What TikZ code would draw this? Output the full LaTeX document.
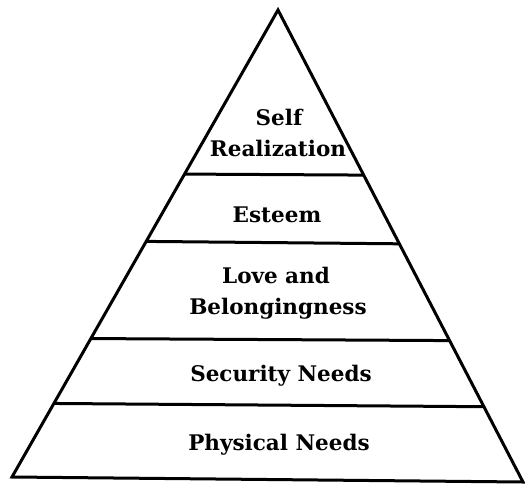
\documentclass[tikz,border=0pt]{standalone}
\usepackage{fontspec}
\setmainfont{DejaVu Serif}
\begin{document}
\begin{tikzpicture}[x=1pt,y=-1pt,
  edge/.style={line width=3pt,line join=miter,line cap=butt},
  band/.style={line width=3pt},
  lbl/.style={anchor=base,inner sep=0pt,font=\fontsize{21.5}{24}\selectfont\bfseries}]
\useasboundingbox (0,0) rectangle (525,485);
% corners
\coordinate (apex) at (278,10);
\coordinate (bl) at (12,477);
\coordinate (br) at (523,482);
% band ends on the sides
\coordinate (l1) at (intersection of apex--bl and 0,173--525,176);
\coordinate (r1) at (intersection of apex--br and 0,173--525,176);
\coordinate (l2) at (intersection of apex--bl and 0,240--525,245);
\coordinate (r2) at (intersection of apex--br and 0,240--525,245);
\coordinate (l3) at (intersection of apex--bl and 0,338--525,341);
\coordinate (r3) at (intersection of apex--br and 0,338--525,341);
\coordinate (l4) at (intersection of apex--bl and 0,403--525,407);
\coordinate (r4) at (intersection of apex--br and 0,403--525,407);
\draw[edge] (apex) -- (bl) -- (br) -- cycle;
\draw[band] (l1) -- (r1);
\draw[band] (l2) -- (r2);
\draw[band] (l3) -- (r3);
\draw[band] (l4) -- (r4);
% labels
\node[lbl] (self) at (279,125) {Self};
\node[lbl] (real) at (278,156) {Realization};
\node[lbl] (est) at (277,222) {Esteem};
\node[lbl] (love) at (276,283) {Love and};
\node[lbl] (bel) at (278,314) {Belongingness};
\node[lbl] (sec) at (281,381) {Security Needs};
\node[lbl] (phys) at (279,450) {Physical Needs};
\end{tikzpicture}
\end{document}
